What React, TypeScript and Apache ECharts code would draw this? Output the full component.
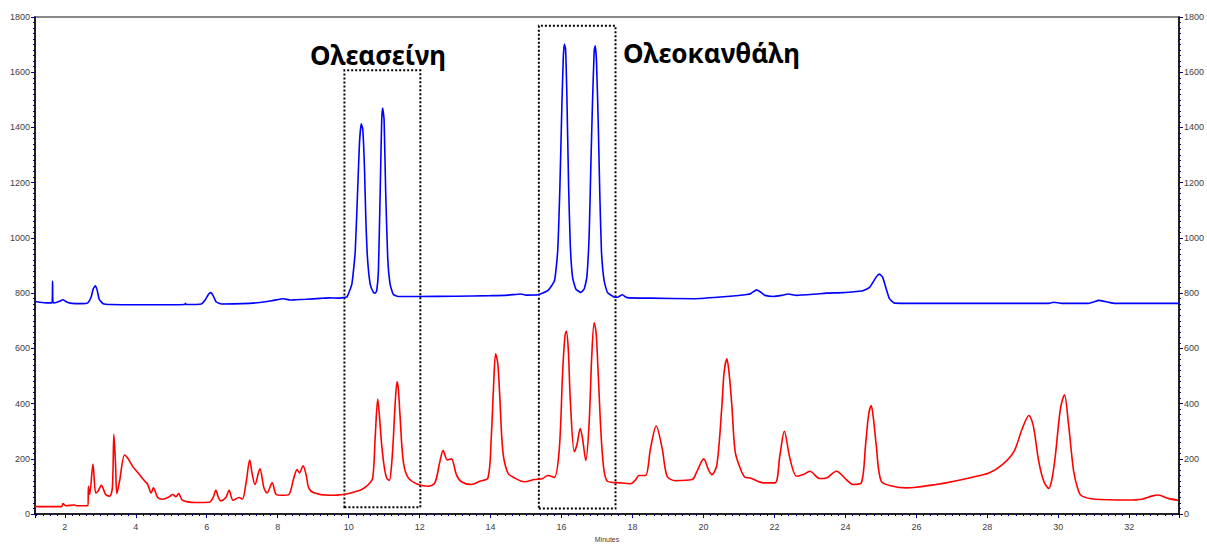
import React, { useEffect, useRef } from "react";
import * as echarts from "echarts";

// Retention time (minutes) and absorbance (mAU)
const blueMinutes = [1.16, 1.30, 1.50, 1.64, 1.655, 1.67, 1.78, 1.87, 1.95, 2.03, 2.15, 2.50, 2.65, 2.74, 2.80, 2.86, 2.91, 2.97, 3.08, 3.30, 4.00, 5.00, 5.38, 5.40, 5.42, 5.85, 5.96, 6.05, 6.12, 6.18, 6.27, 6.42, 7.00, 7.50, 7.85, 8.17, 8.35, 8.50, 8.80, 9.20, 9.44, 9.70, 9.85,
  9.95, 10.09, 10.185, 10.258, 10.305, 10.353, 10.398, 10.446, 10.483, 10.53, 10.606, 10.698, 10.746, 10.791, 10.838, 10.886, 10.931, 10.959, 10.998, 11.043, 11.10, 11.167, 11.259, 11.40, 12.0, 13.0, 14.0, 14.5, 14.85, 15.0, 15.33, 15.61, 15.80, 15.89, 15.954, 16.01, 16.049, 16.077, 16.113, 16.15, 16.198, 16.245, 16.31, 16.402, 16.543, 16.638, 16.711, 16.778, 16.823, 16.871, 16.919, 16.947, 16.983, 17.031, 17.076, 17.124, 17.199, 17.292, 17.48, 17.572, 17.713, 17.806, 17.90, 18.5, 19.72, 20.66, 21.22, 21.35, 21.50, 21.62, 21.73, 21.97, 22.20, 22.39, 22.62, 23.18, 23.46, 23.93, 24.30, 24.49, 24.68, 24.87, 24.96, 25.05, 25.15, 25.24, 25.38, 25.99, 29.73, 29.87, 30.10, 30.85, 31.00, 31.13, 31.41, 31.60, 33.40];
const blueValues = [770, 767, 765, 765, 843, 765, 767, 772, 776, 770, 764, 762, 765, 785, 815, 827, 812, 778, 762, 759, 758, 758, 759, 763, 759, 761, 776, 796, 802, 791, 768, 761, 762, 766, 773, 780, 775, 776, 778, 781, 783, 782, 784,
  786, 833, 952, 1190, 1345, 1413, 1393, 1250, 1071, 928, 833, 803, 800, 809, 881, 1155, 1428, 1470, 1428, 1167, 928, 833, 795, 788, 788, 789, 791, 793, 797, 793, 794, 809, 845, 952, 1190, 1488, 1654, 1702, 1684, 1512, 1190, 976, 857, 815, 803, 815, 857, 1012, 1250, 1488, 1678, 1696, 1643, 1428, 1167, 952, 845, 803, 786, 785, 794, 786, 783, 782, 780, 788, 795, 800, 812, 803, 792, 788, 792, 797, 792, 797, 800, 802, 806, 809, 821, 859, 869, 857, 815, 780, 764, 763, 763, 767, 763, 763, 768, 774, 767, 763, 763];

const redMinutes = [1.16, 1.91, 1.95, 2.03, 2.28, 2.33, 2.654, 2.665, 2.70, 2.794, 2.87, 2.934, 3.030, 3.15, 3.263, 3.34, 3.383, 3.43, 3.467, 3.543, 3.684, 3.776, 3.917, 4.104, 4.245, 4.337, 4.433, 4.497, 4.618, 4.758, 4.946, 5.039, 5.134, 5.207, 5.319, 5.695, 6.068, 6.18, 6.256, 6.33, 6.397, 6.537, 6.630, 6.742, 6.910, 7.003, 7.115, 7.210, 7.284, 7.359, 7.499, 7.612, 7.70, 7.845, 7.957, 8.125, 8.313, 8.453, 8.546, 8.613, 8.714, 8.80, 8.874, 9.015, 9.435, 9.856, 10.23,
  10.37, 10.558, 10.678, 10.746, 10.819, 10.866, 10.931, 11.007, 11.071, 11.147, 11.21, 11.259, 11.307, 11.363, 11.40, 11.447, 11.540, 11.680, 11.961, 12.241, 12.429, 12.570, 12.662, 12.783, 12.895, 13.035, 13.176, 13.456, 13.692, 13.925, 14.017, 14.08, 14.141, 14.20, 14.253, 14.346, 14.486, 14.674, 14.955, 15.235, 15.47, 15.608, 15.796, 15.937, 16.029, 16.094, 16.133, 16.19, 16.245, 16.358, 16.431, 16.526, 16.59, 16.683, 16.778, 16.85, 16.919, 16.975, 17.031, 17.152, 17.292, 17.665, 17.946,
  18.09, 18.181, 18.367, 18.507, 18.667, 18.835, 18.975, 19.208, 19.677, 19.817, 20.005, 20.14, 20.238, 20.378, 20.519, 20.58, 20.659, 20.72, 20.799, 20.892, 21.032, 21.172, 21.313, 21.689, 22.014, 22.154, 22.278, 22.435, 22.623, 22.811, 22.996, 23.277, 23.465, 23.745, 24.026, 24.214, 24.447, 24.567, 24.65, 24.727, 24.79, 24.868, 25.008, 25.336, 25.709, 25.990, 26.551,
  26.832, 27.485, 28.047, 28.423, 28.748, 28.984, 29.169, 29.292, 29.449, 29.59, 29.730, 29.826, 29.918, 30.058, 30.171, 30.291, 30.432, 30.57, 30.667, 31.040, 31.975, 32.351, 32.63, 32.817, 33.097, 33.378];
const redValues = [27, 27, 38, 30, 33, 30, 30, 101, 71, 181, 77, 83, 104, 71, 65, 95, 289, 179, 74, 119, 214, 202, 172, 143, 121, 107, 77, 95, 60, 54, 63, 71, 63, 74, 50, 42, 43, 60, 86, 60, 48, 60, 86, 50, 60, 54, 119, 196, 143, 107, 164, 95, 77, 113, 71, 68, 71, 131, 161, 149, 175, 143, 95, 77, 68, 71, 83,
  89, 107, 131, 274, 417, 357, 250, 167, 131, 122, 179, 274, 393, 479, 452, 357, 190, 131, 107, 101, 113, 190, 230, 196, 200, 143, 117, 107, 119, 131, 274, 452, 580, 548, 440, 226, 149, 131, 117, 125, 129, 140, 133, 238, 512, 643, 663, 595, 417, 226, 250, 310, 274, 194, 333, 571, 693, 655, 512, 214, 119, 113, 110,
  125, 140, 140, 238, 319, 238, 137, 121, 125, 155, 200, 161, 143, 179, 393, 512, 562, 512, 393, 226, 167, 133, 131, 113, 113, 214, 300, 202, 137, 143, 155, 129, 131, 155, 125, 107, 113, 250, 357, 393, 345, 250, 119, 101, 95, 97, 107,
  113, 131, 149, 179, 226, 310, 357, 321, 190, 119, 93, 131, 214, 381, 432, 321, 155, 83, 65, 54, 51, 54, 65, 69, 57, 50];

// Annotation boxes: [startMin, endMin, low, high]
const boxOleacein = [9.88, 12.02, 25, 1607];
const boxOleocanthal = [15.36, 17.52, 20, 1768];
const labelOleacein = "Ολεασείνη";
const labelOleocanthal = "Ολεοκανθάλη";

const xMin = 1.16;
const xMax = 33.4;
const yMin = 0;
const yMax = 1800;

const pair = (xs: number[], ys: number[]) => xs.map((x, i) => [x, ys[i]]);

export default function App() {
  const ref = useRef<HTMLDivElement>(null);
  useEffect(() => {
    if (!ref.current) return;
    const chart = echarts.init(ref.current, undefined, { renderer: "svg" });
    const tickColor = "#000080";
    const labelColor = "#404040";
    const yAxisBase = (position: "left" | "right") => ({
      type: "value",
      position,
      min: yMin,
      max: yMax,
      interval: 200,
      axisLine: { show: true, onZero: false, lineStyle: { color: "#000", width: 1.5 } },
      axisTick: { show: true, length: 4, lineStyle: { color: tickColor } },
      minorTick: { show: true, splitNumber: 10, length: 2, lineStyle: { color: tickColor } },
      axisLabel: {
        fontSize: 9, color: labelColor, fontFamily: "Liberation Sans", margin: 5,
        formatter: (v: number) => String(v),
      },
      splitLine: { show: false },
    });
    const box = (b: number[]) => [
      { xAxis: b[0], yAxis: b[2] },
      { xAxis: b[1], yAxis: b[3] },
    ];
    chart.setOption({
      animation: false,
      backgroundColor: "#fff",
      grid: {
        left: 35, right: 23, top: 17, bottom: 27,
        show: true, borderColor: "#888", borderWidth: 2, backgroundColor: "transparent",
      },
      xAxis: {
        type: "value",
        min: xMin,
        max: xMax,
        splitNumber: 16,
        name: "Minutes",
        nameLocation: "middle",
        nameGap: 21,
        nameTextStyle: { fontSize: 7, color: labelColor, fontFamily: "Liberation Sans" },
        axisLine: { show: true, lineStyle: { color: "#000", width: 1.5 } },
        axisTick: { show: true, length: 4, lineStyle: { color: tickColor } },
        minorTick: { show: true, splitNumber: 10, length: 2, lineStyle: { color: tickColor } },
        axisLabel: { fontSize: 9, color: labelColor, fontFamily: "Liberation Sans", margin: 8, showMinLabel: false, showMaxLabel: false },
        splitLine: { show: false },
      },
      yAxis: [yAxisBase("left"), yAxisBase("right")],
      series: [
        {
          type: "line",
          data: pair(blueMinutes, blueValues),
          showSymbol: false,
          smooth: 0.15,
          lineStyle: { color: "#0000ff", width: 1.6 },
          itemStyle: { color: "#0000ff" },
          silent: true,
        },
        {
          type: "line",
          data: pair(redMinutes, redValues),
          showSymbol: false,
          smooth: 0.3,
          lineStyle: { color: "#ff0000", width: 1.6 },
          itemStyle: { color: "#ff0000" },
          silent: true,
          markArea: {
            silent: true,
            itemStyle: { color: "rgba(0,0,0,0)", borderColor: "#000", borderWidth: 2, borderType: "dotted" },
            data: [box(boxOleacein), box(boxOleocanthal)],
          },
        },
      ],
      graphic: [
        {
          type: "text", x: 310, y: 55,
          style: { text: labelOleacein, font: 'bold 26px "Noto Sans"', fill: "#000", textAlign: "left", textVerticalAlign: "middle" },
        },
        {
          type: "text", x: 623, y: 53,
          style: { text: labelOleocanthal, font: 'bold 26px "Noto Sans"', fill: "#000", textAlign: "left", textVerticalAlign: "middle" },
        },
      ],
    });
    return () => chart.dispose();
  }, []);
  return <div ref={ref} style={{ width: 1207, height: 548, position: "absolute", left: 0, top: 0 }} />;
}
